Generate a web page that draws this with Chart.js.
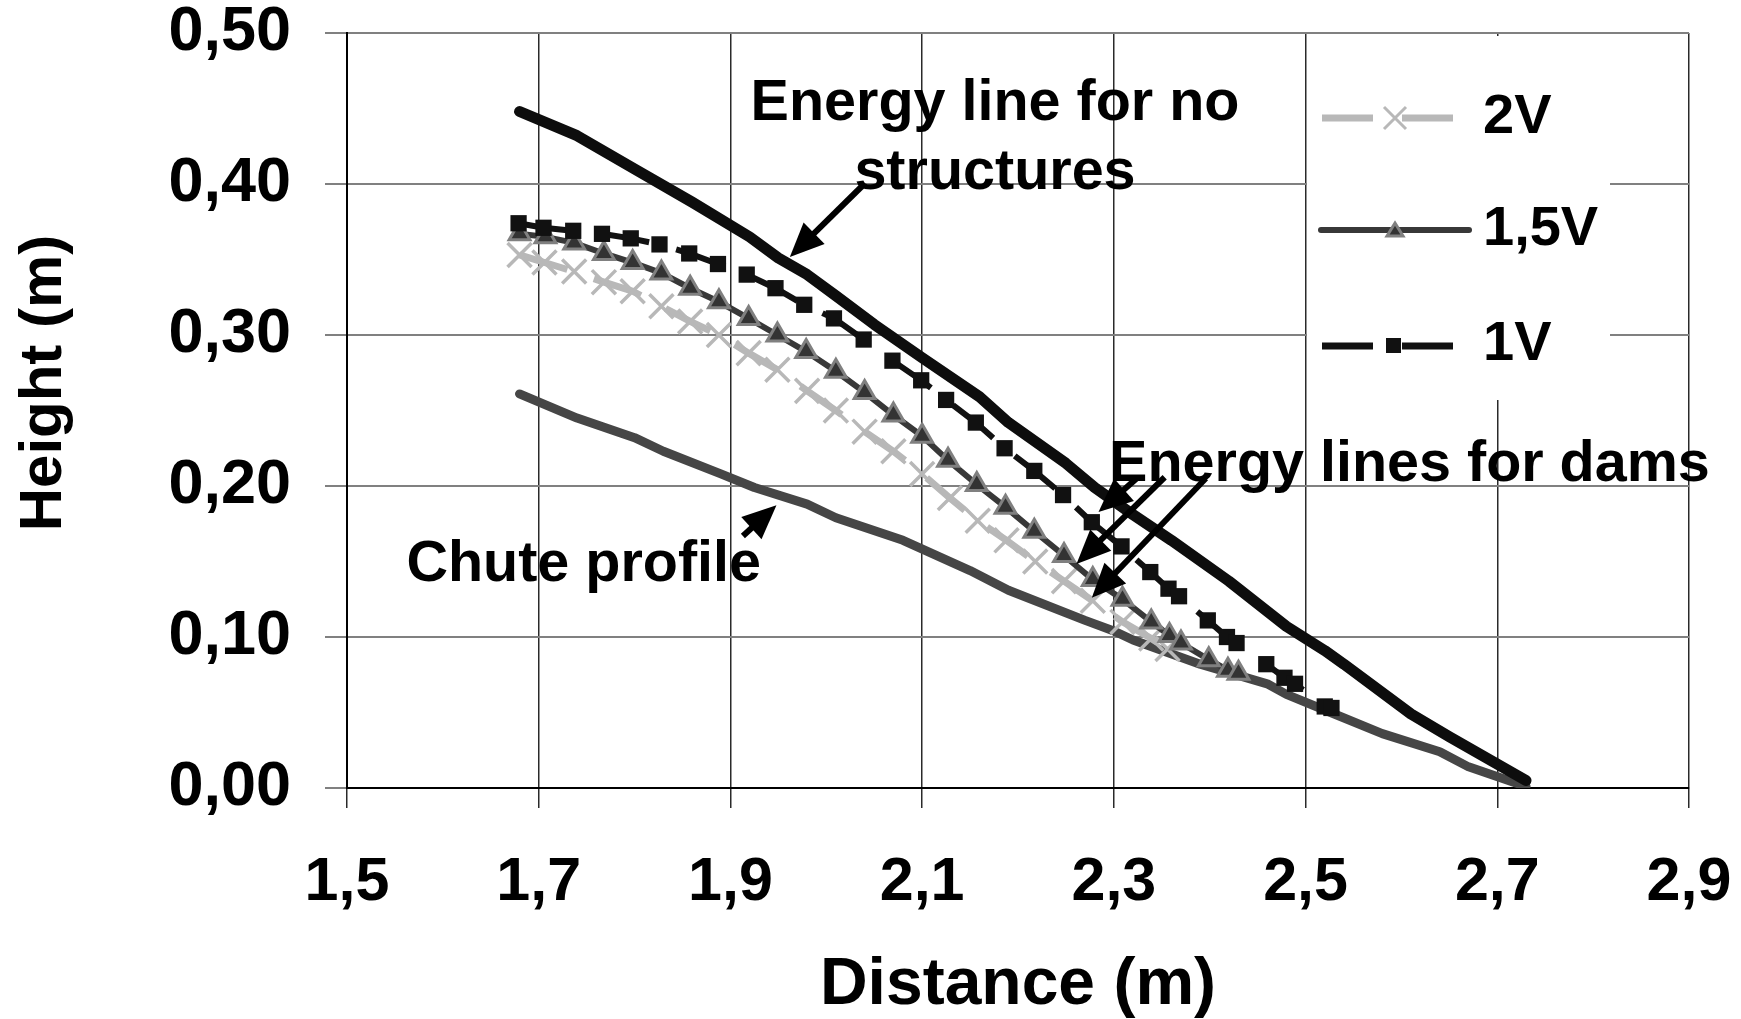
<!DOCTYPE html>
<html>
<head>
<meta charset="utf-8">
<title>Energy lines</title>
<script src="https://cdn.jsdelivr.net/npm/chart.js@4.4.1/dist/chart.umd.min.js"></script>
<style>
  html, body { margin: 0; padding: 0; background: #fff; }
  #wrap { width: 1741px; height: 1019px; position: relative; }
</style>
</head>
<body>
<div id="wrap"><canvas id="chart"></canvas></div>
<script>
// values
const xTicks = [1.5, 1.7, 1.9, 2.1, 2.3, 2.5, 2.7, 2.9];
const yTicks = [0, 0.1, 0.2, 0.3, 0.4, 0.5];

const xNoStruct = [1.68, 1.74, 1.80, 1.86, 1.92, 1.95, 1.98, 2.01, 2.05, 2.10, 2.16, 2.19, 2.25, 2.28, 2.32, 2.36, 2.42, 2.48, 2.52, 2.54, 2.61, 2.65, 2.73];
const yNoStruct = [0.448, 0.432, 0.410, 0.388, 0.365, 0.351, 0.340, 0.326, 0.307, 0.285, 0.259, 0.242, 0.215, 0.199, 0.181, 0.164, 0.137, 0.107, 0.091, 0.082, 0.049, 0.034, 0.005];

const xChute = [1.68, 1.74, 1.80, 1.83, 1.89, 1.925, 1.98, 2.01, 2.08, 2.15, 2.19, 2.27, 2.30, 2.32, 2.39, 2.46, 2.48, 2.53, 2.58, 2.64, 2.67, 2.73];
const yChute = [0.261, 0.245, 0.232, 0.223, 0.208, 0.199, 0.188, 0.179, 0.164, 0.144, 0.131, 0.111, 0.104, 0.098, 0.082, 0.069, 0.062, 0.049, 0.036, 0.024, 0.014, 0.001];

const x2V = [1.68, 1.706, 1.737, 1.768, 1.798, 1.828, 1.858, 1.888, 1.919, 1.949, 1.98, 2.01, 2.04, 2.07, 2.10, 2.129, 2.158, 2.188, 2.218, 2.248, 2.278, 2.309, 2.339, 2.356];
const y2V = [0.353, 0.348, 0.342, 0.335, 0.329, 0.319, 0.309, 0.300, 0.288, 0.277, 0.263, 0.250, 0.236, 0.223, 0.208, 0.192, 0.177, 0.164, 0.150, 0.137, 0.124, 0.110, 0.099, 0.092];

const x15V = [1.68, 1.707, 1.737, 1.768, 1.798, 1.828, 1.858, 1.888, 1.919, 1.949, 1.979, 2.01, 2.04, 2.07, 2.10, 2.127, 2.157, 2.187, 2.217, 2.248, 2.278, 2.309, 2.339, 2.358, 2.37, 2.399, 2.419, 2.43];
const y15V = [0.367, 0.365, 0.361, 0.354, 0.348, 0.341, 0.331, 0.322, 0.311, 0.300, 0.289, 0.276, 0.262, 0.247, 0.233, 0.217, 0.201, 0.186, 0.170, 0.154, 0.138, 0.125, 0.110, 0.101, 0.096, 0.085, 0.078, 0.076];

const x1V = [1.679, 1.705, 1.736, 1.766, 1.796, 1.826, 1.857, 1.887, 1.917, 1.947, 1.977, 2.008, 2.039, 2.069, 2.099, 2.125, 2.156, 2.186, 2.217, 2.247, 2.277, 2.308, 2.338, 2.357, 2.368, 2.398, 2.418, 2.428, 2.459, 2.478, 2.489, 2.52, 2.527];
const y1V = [0.374, 0.371, 0.369, 0.367, 0.364, 0.360, 0.354, 0.347, 0.340, 0.331, 0.320, 0.311, 0.297, 0.283, 0.270, 0.257, 0.242, 0.225, 0.210, 0.194, 0.176, 0.160, 0.143, 0.132, 0.127, 0.111, 0.100, 0.096, 0.082, 0.073, 0.069, 0.054, 0.053];

const legendLabels = ["2V", "1,5V", "1V"];
const yTitle = "Height (m)";

// annotation anchors, in data units
const notes = [
  { text: "Energy line for no", x: 2.176, y: 0.4426, align: "center" },
  { text: "structures", x: 2.176, y: 0.3964, align: "center" },
  { text: "Energy lines for dams", x: 2.295, y: 0.2032, align: "left" },
  { text: "Chute profile", x: 1.562, y: 0.1372, align: "left" }
];
const arrows = [
  [2.038, 0.399, 1.962, 0.3516],
  [1.913, 0.1669, 1.948, 0.1873],
  [2.324, 0.2051, 2.284, 0.1827],
  [2.353, 0.2058, 2.261, 0.1484],
  [2.396, 0.2051, 2.277, 0.126]
];

const FONT = "'Liberation Sans', Arial, sans-serif";

function points(xs, ys) {
  return xs.map((x, i) => ({ x, y: ys[i] }));
}

function comma(value, digits) {
  return Number(value).toFixed(digits).replace(".", ",");
}

function drawArrow(ctx, x1, y1, x2, y2) {
  const ang = Math.atan2(y2 - y1, x2 - x1);
  const len = 34;
  const half = 15;
  const bx = x2 - Math.cos(ang) * len;
  const by = y2 - Math.sin(ang) * len;
  ctx.strokeStyle = "#000";
  ctx.lineWidth = 6;
  ctx.lineCap = "butt";
  ctx.beginPath();
  ctx.moveTo(x1, y1);
  ctx.lineTo(bx + Math.cos(ang) * 4, by + Math.sin(ang) * 4);
  ctx.stroke();
  ctx.fillStyle = "#000";
  ctx.beginPath();
  ctx.moveTo(x2, y2);
  ctx.lineTo(bx + Math.sin(ang) * half, by - Math.cos(ang) * half);
  ctx.lineTo(bx - Math.sin(ang) * half, by + Math.cos(ang) * half);
  ctx.closePath();
  ctx.fill();
}

const annotations = {
  id: "annotations",
  afterDatasetsDraw(chart) {
    const ctx = chart.ctx;
    const xs = chart.scales.x;
    const ys = chart.scales.y;
    ctx.save();
    arrows.forEach(a => {
      drawArrow(ctx, xs.getPixelForValue(a[0]), ys.getPixelForValue(a[1]),
        xs.getPixelForValue(a[2]), ys.getPixelForValue(a[3]));
    });
    ctx.fillStyle = "#000";
    ctx.font = "bold 57.5px " + FONT;
    ctx.textBaseline = "alphabetic";
    notes.forEach(n => {
      ctx.textAlign = n.align;
      ctx.fillText(n.text, xs.getPixelForValue(n.x), ys.getPixelForValue(n.y));
    });

    // y axis title, sits a little above the middle of the axis
    ctx.save();
    ctx.translate(44, 383);
    ctx.rotate(-Math.PI / 2);
    ctx.font = "bold 60px " + FONT;
    ctx.textAlign = "center";
    ctx.textBaseline = "middle";
    ctx.fillText(yTitle, 0, 0);
    ctx.restore();
    ctx.restore();
  }
};

const boxLegend = {
  id: "boxLegend",
  afterDatasetsDraw(chart) {
    const ctx = chart.ctx;
    ctx.save();
    ctx.fillStyle = "#fff";
    ctx.fillRect(1307, 36, 303, 364);

    // 2V
    ctx.strokeStyle = "#b8b8b8";
    ctx.lineWidth = 7;
    ctx.setLineDash([51, 29]);
    ctx.beginPath();
    ctx.moveTo(1322, 118);
    ctx.lineTo(1453, 118);
    ctx.stroke();
    ctx.setLineDash([]);
    ctx.lineWidth = 3;
    ctx.beginPath();
    ctx.moveTo(1384, 107); ctx.lineTo(1406, 129);
    ctx.moveTo(1406, 107); ctx.lineTo(1384, 129);
    ctx.stroke();

    // 1,5V
    ctx.strokeStyle = "#383838";
    ctx.lineWidth = 6;
    ctx.lineCap = "round";
    ctx.beginPath();
    ctx.moveTo(1321, 230);
    ctx.lineTo(1469, 230);
    ctx.stroke();
    ctx.lineCap = "butt";
    ctx.fillStyle = "#333";
    ctx.strokeStyle = "#808080";
    ctx.lineWidth = 3;
    ctx.beginPath();
    ctx.moveTo(1395, 223);
    ctx.lineTo(1403, 236);
    ctx.lineTo(1387, 236);
    ctx.closePath();
    ctx.fill();
    ctx.stroke();

    // 1V
    ctx.strokeStyle = "#111";
    ctx.lineWidth = 7;
    ctx.setLineDash([51, 29]);
    ctx.beginPath();
    ctx.moveTo(1322, 346);
    ctx.lineTo(1453, 346);
    ctx.stroke();
    ctx.setLineDash([]);
    ctx.fillStyle = "#111";
    ctx.fillRect(1386, 338, 15, 15);

    ctx.fillStyle = "#000";
    ctx.font = "bold 56px " + FONT;
    ctx.textAlign = "left";
    ctx.textBaseline = "alphabetic";
    ctx.fillText(legendLabels[0], 1483, 133);
    ctx.fillText(legendLabels[1], 1483, 245);
    ctx.fillText(legendLabels[2], 1483, 360);
    ctx.restore();
  }
};

new Chart(document.getElementById("chart"), {
  type: "line",
  data: {
    datasets: [
      {
        label: "Energy line for no structures",
        data: points(xNoStruct, yNoStruct),
        borderColor: "#0d0d0d",
        borderWidth: 11,
        borderCapStyle: "round",
        borderJoinStyle: "round",
        pointRadius: 0,
        order: 2
      },
      {
        label: "Chute profile",
        data: points(xChute, yChute),
        borderColor: "#464646",
        borderWidth: 9,
        borderCapStyle: "round",
        borderJoinStyle: "round",
        pointRadius: 0,
        order: 5
      },
      {
        label: "2V",
        data: points(x2V, y2V),
        borderColor: "#b8b8b8",
        borderWidth: 7,
        borderDash: [50, 28],
        pointStyle: "crossRot",
        pointRadius: 17,
        pointBorderWidth: 3.5,
        pointBorderColor: "#b8b8b8",
        order: 4
      },
      {
        label: "1,5V",
        data: points(x15V, y15V),
        borderColor: "#383838",
        borderWidth: 6,
        pointStyle: "triangle",
        pointRadius: 12,
        pointBorderWidth: 3,
        pointBackgroundColor: "#333",
        pointBorderColor: "#808080",
        order: 3
      },
      {
        label: "1V",
        data: points(x1V, y1V),
        borderColor: "#111",
        borderWidth: 6,
        borderDash: [52, 28],
        pointStyle: "rect",
        pointRadius: 11.5,
        pointBorderWidth: 0,
        pointBackgroundColor: "#111",
        pointBorderColor: "#111",
        order: 1
      }
    ]
  },
  options: {
    responsive: true,
    maintainAspectRatio: false,
    animation: false,
    layout: { padding: { left: 0, top: 33, right: 52, bottom: 0 } },
    plugins: {
      legend: { display: false },
      tooltip: { enabled: false }
    },
    scales: {
      x: {
        type: "linear",
        min: 1.5,
        max: 2.9,
        afterBuildTicks: scale => { scale.ticks = xTicks.map(v => ({ value: v })); },
        afterFit: scale => {
          scale.height = 231;
          scale.paddingLeft = 0;
          scale.paddingRight = 0;
        },
        ticks: {
          color: "#000",
          padding: 45,
          maxRotation: 0,
          font: { family: FONT, size: 61, weight: "bold", lineHeight: 1 },
          callback: value => comma(value, 1)
        },
        grid: { color: "#2a2a2a", lineWidth: 1.5, tickLength: 20 },
        border: { color: "#000", width: 2 },
        title: {
          display: true,
          text: "Distance (m)",
          color: "#000",
          padding: { top: 0, bottom: 0 },
          font: { family: FONT, size: 66, weight: "bold", lineHeight: 1 }
        }
      },
      y: {
        min: 0,
        max: 0.5,
        afterBuildTicks: scale => { scale.ticks = yTicks.map(v => ({ value: v })); },
        afterFit: scale => {
          scale.width = 347;
          scale.paddingTop = 0;
          scale.paddingBottom = 0;
        },
        ticks: {
          color: "#000",
          padding: 34,
          font: { family: FONT, size: 63, weight: "bold", lineHeight: 1 },
          callback: value => comma(value, 2)
        },
        grid: { color: "#808080", lineWidth: 2, tickLength: 22 },
        border: { color: "#000", width: 2 }
      }
    }
  },
  plugins: [annotations, boxLegend]
});
</script>
</body>
</html>
